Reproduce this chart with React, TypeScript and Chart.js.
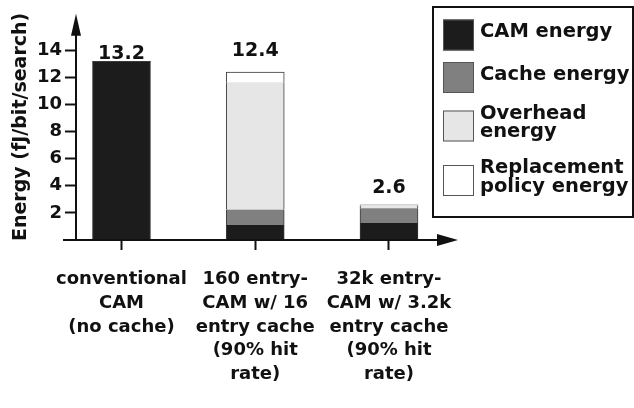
import { useEffect, useRef } from 'react';
import { Chart, registerables } from 'chart.js';

Chart.register(...registerables);

// ---- data ----
const categories: string[][] = [
  ['conventional', 'CAM', '(no cache)'],
  ['160 entry-', 'CAM w/ 16', 'entry cache', '(90% hit', 'rate)'],
  ['32k entry-', 'CAM w/ 3.2k', 'entry cache', '(90% hit', 'rate)'],
];
const seriesNames: string[][] = [
  ['CAM energy'],
  ['Cache energy'],
  ['Overhead', 'energy'],
  ['Replacement', 'policy energy'],
];
const camEnergy = [13.2, 1.1, 1.25];
const cacheEnergy = [0, 1.15, 1.1];
const overheadEnergy = [0, 9.4, 0.2];
const replacementEnergy = [0, 0.75, 0.05];
const totalLabels = ['13.2', '12.4', '2.6'];
const yTickValues = [2, 4, 6, 8, 10, 12, 14];

const series = [camEnergy, cacheEnergy, overheadEnergy, replacementEnergy];
const seriesColors = ['#1c1c1c', '#808080', '#e6e6e6', '#ffffff'];

const INK = '#111111';
const FAMILY = "'DejaVu Sans', sans-serif";

const decorPlugin = {
  id: 'decor',
  afterDatasetsDraw(chart: any, _args: any, opts: any) {
    const { ctx, chartArea } = chart;
    const { left, right, top } = chartArea;
    const xs = chart.scales.x;
    const ys = chart.scales.y;
    const y0 = ys.getPixelForValue(0);
    ctx.save();
    ctx.strokeStyle = INK;
    ctx.fillStyle = INK;
    ctx.lineWidth = 2;
    // x axis with arrow
    ctx.beginPath();
    ctx.moveTo(left - 13, y0);
    ctx.lineTo(right - 16, y0);
    ctx.stroke();
    ctx.beginPath();
    ctx.moveTo(right, y0);
    ctx.lineTo(right - 21, y0 - 6);
    ctx.lineTo(right - 21, y0 + 6);
    ctx.closePath();
    ctx.fill();
    // y axis with arrow
    ctx.beginPath();
    ctx.moveTo(left, y0 + 1);
    ctx.lineTo(left, top + 16);
    ctx.stroke();
    ctx.beginPath();
    ctx.moveTo(left, top);
    ctx.lineTo(left - 5, top + 22);
    ctx.lineTo(left + 5, top + 22);
    ctx.closePath();
    ctx.fill();

    // totals above bars
    ctx.font = `bold 19px ${FAMILY}`;
    ctx.textAlign = 'center';
    ctx.textBaseline = 'alphabetic';
    totalLabels.forEach((lab, i) => {
      const sum = series.reduce((s, arr) => s + arr[i], 0);
      const px = xs.getPixelForValue(i);
      const py = ys.getPixelForValue(sum) - opts.gaps[i];
      ctx.fillText(lab, px, py);
    });

    // legend
    const b = opts.legendBox;
    ctx.lineWidth = 2;
    ctx.strokeRect(b.x, b.y, b.w, b.h);
    ctx.font = `bold 19.5px ${FAMILY}`;
    ctx.textAlign = 'left';
    ctx.textBaseline = 'middle';
    let itemTop = b.y + 12.5;
    seriesNames.forEach((lines, k) => {
      const h = Math.max(31, lines.length * 21.5);
      const cy = itemTop + h / 2;
      ctx.fillStyle = seriesColors[k];
      ctx.fillRect(b.x + 10, cy - 15.5, 31, 31);
      ctx.lineWidth = 1;
      ctx.strokeStyle = '#555555';
      ctx.strokeRect(b.x + 10.5, cy - 15, 30, 30);
      ctx.fillStyle = INK;
      lines.forEach((t, j) => {
        ctx.fillText(t, b.x + 47, cy - 3 + (j - (lines.length - 1) / 2) * 18.5);
      });
      itemTop += h + 11.5;
    });
    ctx.restore();
  },
};

export default function App() {
  const ref = useRef<HTMLCanvasElement>(null);
  useEffect(() => {
    const datasets = series.map((vals, d) => ({
      label: seriesNames[d].join(' '),
      data: vals.map((v, i) => ({ x: i, y: v })),
      backgroundColor: seriesColors[d],
      borderColor: '#3a3a3a',
      borderSkipped: false,
      borderWidth: (c: any) => {
        const i = c.dataIndex;
        const v = series[d][i];
        if (!v) return 0;
        const isTop = series.slice(d + 1).every((s) => !s[i]);
        return { left: 1, right: 1, top: isTop ? 1 : 0, bottom: 0 };
      },
      barThickness: 58,
    }));
    const chart = new Chart(ref.current!, {
      type: 'bar',
      data: { datasets },
      plugins: [decorPlugin],
      options: {
        responsive: false,
        animation: false,
        layout: { padding: { top: 10, right: 176, left: 0, bottom: 0 } },
        plugins: {
          legend: { display: false },
          tooltip: { enabled: false },
          decor: {
            gaps: [2, 16, 12],
            legendBox: { x: 433, y: 7, w: 200, h: 210 },
          },
        } as any,
        scales: {
          x: {
            type: 'linear',
            stacked: true,
            offset: false,
            min: -0.34,
            max: 2.516,
            afterBuildTicks: (s: any) => {
              s.ticks = categories.map((_, i) => ({ value: i }));
            },
            afterFit: (s: any) => {
              s.height = 168;
            },
            border: { display: false },
            grid: {
              offset: false,
              drawOnChartArea: false,
              drawTicks: true,
              tickLength: 10,
              tickWidth: 2,
              tickColor: INK,
            },
            ticks: {
              autoSkip: false,
              maxRotation: 0,
              minRotation: 0,
              padding: 18,
              color: INK,
              font: { family: FAMILY, weight: 'bold', size: 18, lineHeight: 1.31 },
              callback: (_v: any, idx: number) => categories[idx],
            },
          },
          y: {
            type: 'linear',
            stacked: true,
            min: 0,
            max: 16.7,
            afterBuildTicks: (s: any) => {
              s.ticks = yTickValues.map((v) => ({ value: v }));
            },
            afterFit: (s: any) => {
              s.width = 76;
            },
            border: { display: false },
            grid: {
              drawOnChartArea: false,
              drawTicks: true,
              tickLength: 11,
              tickWidth: 2,
              tickColor: INK,
            },
            ticks: {
              padding: 3,
              color: INK,
              font: { family: FAMILY, weight: 'bold', size: 18 },
            },
            title: {
              display: true,
              text: 'Energy (fJ/bit/search)',
              color: INK,
              padding: { top: 10, bottom: 0 },
              font: { family: FAMILY, weight: 'bold', size: 19 },
            },
          },
        },
      } as any,
    });
    return () => chart.destroy();
  }, []);
  return (
    <div style={{ position: 'absolute', left: 0, top: 0, width: 634, height: 408 }}>
      <canvas ref={ref} width={634} height={408} style={{ display: 'block' }} />
    </div>
  );
}
